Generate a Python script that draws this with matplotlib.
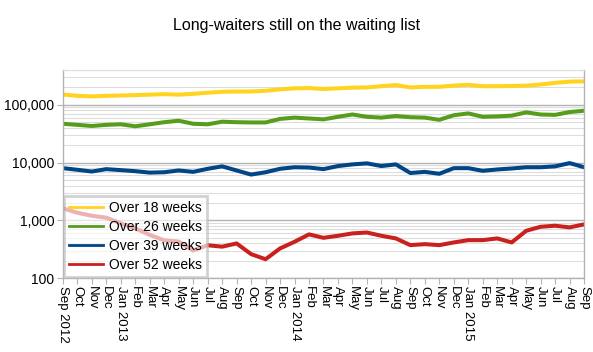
import matplotlib
matplotlib.use("Agg")
import matplotlib.pyplot as plt
from matplotlib.ticker import FixedLocator, FuncFormatter, LogLocator, NullFormatter

plt.rcParams['font.family'] = ['Liberation Sans', 'DejaVu Sans']

months = ["Sep 2012", "Oct", "Nov", "Dec", "Jan 2013", "Feb", "Mar", "Apr", "May", "Jun", "Jul", "Aug",
          "Sep", "Oct", "Nov", "Dec", "Jan 2014", "Feb", "Mar", "Apr", "May", "Jun", "Jul", "Aug",
          "Sep", "Oct", "Nov", "Dec", "Jan 2015", "Feb", "Mar", "Apr", "May", "Jun", "Jul", "Aug", "Sep"]

over18 = [151000, 143000, 140000, 143000, 145000, 147000, 150000, 153000, 150000, 155000, 162000, 168000,
          170000, 170000, 175000, 185000, 193000, 195000, 188000, 193000, 198000, 200000, 210000, 220000,
          200000, 205000, 205000, 215000, 222000, 210000, 210000, 212000, 215000, 225000, 240000, 252000, 255000]

over26 = [47000, 45000, 43000, 45000, 46000, 42500, 46000, 50000, 53000, 47000, 46000, 51000,
          50000, 49500, 49500, 57000, 60000, 58000, 56000, 62000, 68000, 62000, 60000, 64000,
          61000, 60000, 55000, 66000, 71000, 62000, 63000, 65000, 74000, 68000, 67000, 75000, 79000]

over39 = [8000, 7500, 7000, 7700, 7400, 7100, 6700, 6800, 7300, 6900, 7800, 8600,
          7300, 6200, 6800, 7800, 8300, 8200, 7700, 8700, 9300, 9700, 8700, 9300,
          6600, 6900, 6400, 8000, 8000, 7200, 7600, 7900, 8300, 8300, 8600, 9800, 8300]

over52 = [1620, 1350, 1200, 1110, 890, 726, 560, 450, 430, 300, 370, 350,
          398, 260, 212, 326, 425, 571, 498, 540, 594, 615, 540, 486,
          372, 387, 372, 414, 454, 454, 486, 414, 659, 774, 806, 755, 851]

series = [("Over 18 weeks", over18, "#ffd320"),
          ("Over 26 weeks", over26, "#579d1c"),
          ("Over 39 weeks", over39, "#004586"),
          ("Over 52 weeks", over52, "#c9211e")]

fig = plt.figure(figsize=(5.93, 3.52), dpi=100)
ax = fig.add_axes([0.106, 0.21, 0.879, 0.591])

x = list(range(len(months)))
for name, vals, col in series:
    ax.plot(x, vals, color=col, lw=2.9, label=name, solid_joinstyle='round')

ax.set_yscale('log')
ax.set_ylim(100, 400000)
ax.set_xlim(0, len(months) - 1)

ax.yaxis.set_major_locator(FixedLocator([100, 1000, 10000, 100000]))
ax.yaxis.set_major_formatter(FuncFormatter(lambda v, p: f"{int(round(v)):,}"))
ax.yaxis.set_minor_locator(LogLocator(base=10, subs=range(2, 10)))
ax.yaxis.set_minor_formatter(NullFormatter())

ax.set_xticks(x)
ax.set_xticklabels(months, rotation=-90, fontsize=9.5, va='top', ha='center')

ax.grid(True, which='major', axis='y', color='#b3b3b3', lw=1.0)
ax.grid(True, which='minor', axis='y', color='#dddddd', lw=0.8)
ax.set_axisbelow(True)

for s in ['left', 'bottom', 'right']:
    ax.spines[s].set_color('#b3b3b3')
    ax.spines[s].set_linewidth(1.0)
ax.spines['top'].set_color('#dddddd')
ax.spines['top'].set_linewidth(0.8)

ax.tick_params(axis='x', which='major', length=4, color='#b3b3b3', pad=2, labelsize=9.5)
ax.tick_params(axis='y', which='major', length=4, color='#b3b3b3', labelsize=10, pad=2)
ax.tick_params(axis='y', which='minor', length=0)

leg = ax.legend(loc='lower left', fontsize=10, frameon=True, fancybox=False,
                borderaxespad=0.1, handlelength=2.45, handletextpad=0.4,
                labelspacing=0.35, borderpad=0.35, framealpha=0.65)
leg.get_frame().set_edgecolor('#bbbbbb')
leg.get_frame().set_linewidth(2.0)
for ln in leg.get_lines():
    ln.set_linewidth(2.0)

fig.text(0.5, 0.928, "Long-waiters still on the waiting list", ha='center', va='center', fontsize=11.5)

fig.savefig("out.png", dpi=100)
